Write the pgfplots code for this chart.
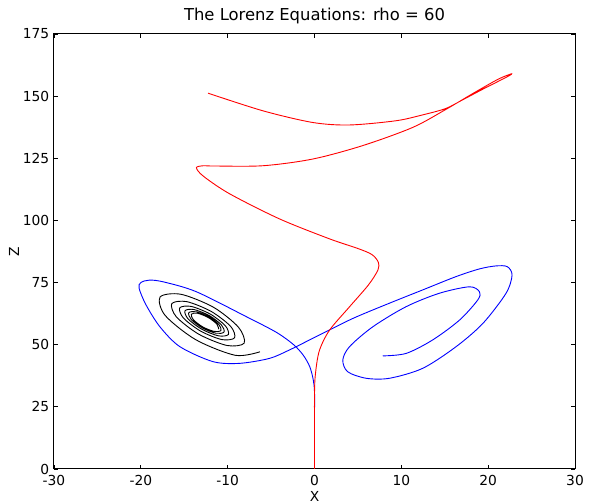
\documentclass[border=0pt]{standalone}
\usepackage{fontspec}
\setmainfont{DejaVu Sans}
\usepackage{pgfplots}
\pgfplotsset{compat=1.18}
\newcommand{\chartfont}{\fontsize{13.8}{16}\selectfont}
\newcommand{\titlefont}{\fontsize{16.4}{19}\selectfont}
\begin{document}
\chartfont
\begin{tikzpicture}[x=1pt,y=1pt]
\path[use as bounding box] (-54,-34) rectangle (535,469);
\begin{axis}[
  at={(0,0)}, anchor=south west,
  scale only axis, width=521pt, height=435pt,
  xmin=-30, xmax=30, ymin=0, ymax=175,
  xtick={-30,-20,-10,0,10,20,30},
  ytick={0,25,50,75,100,125,150,175},
  /pgf/number format/assume math mode=true,
  tick align=inside,
  major tick length=4pt,
  axis line style={line width=1pt},
  tick style={line width=0.8pt, black},
  ticklabel style={font=\chartfont},
  x tick label style={yshift=-1.5pt},
  xlabel={X},
  every axis x label/.style={at={(axis description cs:0.5,-0.0736)}, anchor=base, font=\chartfont},
  ylabel={Z},
  every axis y label/.style={at={(axis description cs:-0.0768,0.5)}, anchor=center, rotate=90, font=\chartfont},
  every axis plot/.append style={line width=0.9pt, smooth, tension=0.5, mark=none},
  clip=false,
]
\addplot[black] coordinates {
(-6.28,47.16)(-9.12,45.74)(-13.66,51.99)(-17.19,61.74)(-17.79,69.17)(-15.38,70.29)(-11.62,65.04)(-8.75,57.02)
(-8.10,50.63)(-10.07,49.69)(-13.31,54.19)(-15.91,61.21)(-16.43,66.56)(-14.70,67.32)(-11.88,63.36)(-9.64,57.31)
(-9.21,52.76)(-10.67,52.07)(-13.11,55.46)(-15.10,60.76)(-15.52,64.83)(-14.21,65.41)(-12.03,62.38)(-10.28,57.68)
(-9.92,54.11)(-11.06,53.57)(-12.99,56.24)(-14.57,60.43)(-14.91,63.67)(-13.88,64.15)(-12.13,61.74)(-10.72,57.97)
(-10.42,55.08)(-11.34,54.61)(-12.91,56.76)(-14.20,60.18)(-14.48,62.85)(-13.64,63.27)(-12.20,61.31)(-11.03,58.19)
(-10.77,55.75)(-11.54,55.34)(-12.85,57.13)(-13.94,60.00)(-14.18,62.27)(-13.47,62.64)(-12.25,60.97)(-11.25,58.31)(-11.03,56.23)
};
\addplot[blue] coordinates {
(0,0)(0,20)(0,31)(-0.15,36)(-0.55,41.2)(-1.3,45.8)(-2.4,50.0)(-4.4,55.0)(-7.86,61.3)(-13.6,71.3)(-17.3,75.2)(-19.0,76.0)(-20.0,75.0)(-20.2,72.7)(-19.4,66.0)(-17.8,57.2)(-15.5,49.2)(-11.7,43.2)(-8.63,42.5)(-5.18,44.5)(-2.88,47.9)(-0.58,51.9)(0.96,54.6)(4.5,60.7)(8.63,66.7)(12.5,72.1)(16.3,77.4)(19.0,80.5)(20.9,81.7)(22.2,81.4)(22.75,78.0)(22.06,70.7)(19.4,58.6)(16.3,49.2)(12.46,40.5)(8.63,36.5)(5.95,36.5)(3.83,39.1)(3.26,43.8)(4.03,49.2)(6.71,57.2)(10.55,65.3)(14.38,70.7)(17.84,73.3)(19.0,71.3)(18.8,68.0)(16.7,59.9)(13.6,51.9)(10.55,46.5)(7.86,45.5)
};
\addplot[red] coordinates {
(0,0)(0,15)(0,30)(0.1,38)(0.55,47.5)(1.72,55.8)(4.02,65.2)(6.2,74)(7.3,80.0)(7.35,83.2)(6.6,86.3)(5.0,88.7)(1.72,92.6)(-4.02,100.6)(-9.77,110.7)(-12.8,117.8)(-13.6,121.2)(-12.8,122.0)(-11.7,121.9)(-5.94,122.0)(-0.2,124.7)(5.55,130.1)(11.3,137.4)(15.1,144.6)(18.5,151.6)(21.2,156.9)(22.7,159.0)(22.2,157.8)(19.5,153.0)(17.0,148.4)(15.1,145.0)(12.5,142.5)(9.39,140.1)(4.02,138.4)(-0.2,139.4)(-5.94,144.1)(-12.26,151.2)
};
\node[font=\titlefont, anchor=base] at (axis description cs:0.5,1.0306) {The Lorenz Equations: rho = 60};
\end{axis}
\end{tikzpicture}
\end{document}
